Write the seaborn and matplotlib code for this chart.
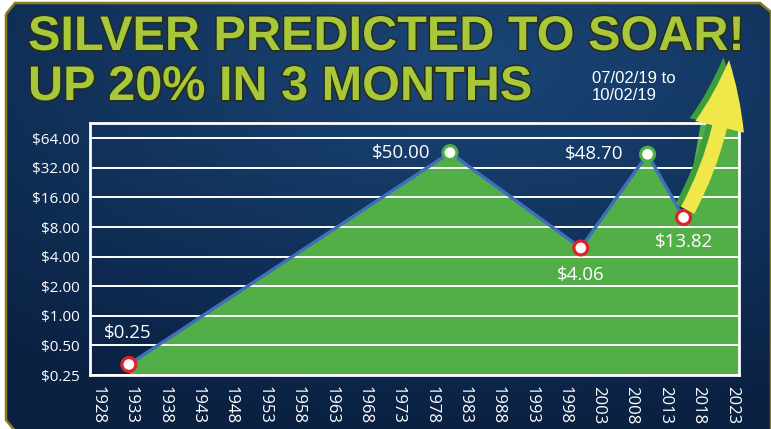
import matplotlib
matplotlib.use('Agg')

import numpy as np
import matplotlib.pyplot as plt
import matplotlib.patheffects as pe
from matplotlib.patches import Polygon
import seaborn as sns

sns.set_theme(style="white")
plt.rcParams['font.family'] = ['Open Sans', 'DejaVu Sans']

# ---- data ----
years = [1932.7, 1980.8, 2000.4, 2010.4, 2015.8]
prices = [0.32, 45.7, 4.9, 44.0, 10.0]
price_labels = ['$0.25', '$50.00', '$4.06', '$48.70', '$13.82']
point_kind = ['low', 'high', 'low', 'high', 'low']
tick_years = list(range(1928, 2024, 5))
tick_prices = [0.25, 0.5, 1, 2, 4, 8, 16, 32, 64]
title_lines = ['SILVER PREDICTED TO SOAR!', 'UP 20% IN 3 MONTHS']
date_text = '07/02/19 to\n10/02/19'

# colours
navy_dark = '#0a2142'
navy_light = '#1a4678'
green_fill = '#52ae47'
line_blue = '#3f6fba'
title_green = '#a8c83b'
edge_cols = {'low': '#e0232b', 'high': '#4caf45'}

W, H = 771, 429
fig = plt.figure(figsize=(W / 100, H / 100), dpi=100)
fig.patch.set_facecolor('white')

# ---- background panel with gradient ----
bg = fig.add_axes([0, 0, 1, 1], zorder=-5)
bg.set_xlim(0, W)
bg.set_ylim(H, 0)
bg.axis('off')
gx, gy = np.meshgrid(np.linspace(0, 1, 300), np.linspace(0, 1, 200))
dist = np.sqrt(((gx - 0.6) / 0.95) ** 2 + ((gy - 0.15) / 0.85) ** 2)
t = np.clip(dist, 0, 1)
c0 = np.array(matplotlib.colors.to_rgb(navy_light))
c1 = np.array(matplotlib.colors.to_rgb(navy_dark))
img = c0[None, None, :] * (1 - t[..., None]) + c1[None, None, :] * t[..., None]
panel_xy = [(6, 14), (15, 3), (760, 3), (771, 12), (771, 432), (16, 432), (6, 420)]
panel = Polygon(panel_xy, closed=True, facecolor='none', edgecolor='#8a7a22', lw=1.8, zorder=2)
bg.add_patch(panel)
im = bg.imshow(img, extent=[0, W, H, 0], aspect='auto', zorder=1)
im.set_clip_path(panel)

# ---- title ----
stroke = [pe.withStroke(linewidth=2.2, foreground='#2a2c12')]
for i, line in enumerate(title_lines):
    fig.text(28 / W, 1 - (50 + 50 * i) / H, line, fontsize=35, fontweight='bold',
             family=['Liberation Sans', 'DejaVu Sans'], color=title_green,
             va='baseline', ha='left', path_effects=stroke)
fig.text(592 / W, 1 - 100 / H, date_text, fontsize=12, color='white',
         family=['Liberation Sans Narrow', 'Liberation Sans', 'DejaVu Sans'],
         va='baseline', ha='left', linespacing=1.2)

# ---- chart ----
ax = fig.add_axes([89.5 / W, 1 - 375 / H, (739 - 89.5) / W, (375 - 123) / H])
ax.set_facecolor('none')
ax.set_yscale('log', base=2)
xmin, xmax = 1926.8, 2024.1
ymin, ymax = 0.25, 91.5
ax.set_xlim(xmin, xmax)
ax.set_ylim(ymin, ymax)

# green area under the line, continuing up behind the arrow
fill_x = years + [2018.3, xmax]
fill_y = prices + [ymax, ymax]
ax.fill_between(fill_x, fill_y, ymin, color=green_fill, lw=0, zorder=1)

ax.set_yticks(tick_prices)
ax.set_yticklabels(['$%.2f' % p for p in tick_prices])
ax.yaxis.set_minor_locator(matplotlib.ticker.NullLocator())
ax.grid(axis='y', color='white', lw=1.4, zorder=2)
ax.grid(axis='x', visible=False)
ax.set_axisbelow(False)

sns.lineplot(x=years, y=prices, ax=ax, color=line_blue, lw=2.4, zorder=3)
sns.scatterplot(x=years, y=prices, ax=ax, s=100, color='white',
                edgecolor=[edge_cols[k] for k in point_kind], linewidth=2.3, zorder=4)

# price labels
offsets = [(-1, 31), (-49, 0), (0, -27), (-53, 0), (0, -24)]
for xv, yv, lab, off in zip(years, prices, price_labels, offsets):
    ax.annotate(lab, (xv, yv), xytext=off, textcoords='offset pixels',
                ha='center', va='center', color='white', fontsize=13.5, zorder=5)

ax.set_xticks(tick_years)
ax.set_xticklabels([str(y) for y in tick_years], rotation=-90)
ax.tick_params(axis='x', colors='white', length=5, width=1.5, direction='out',
               labelsize=12, pad=3)
ax.tick_params(axis='y', colors='white', length=0, labelsize=11, pad=7)
for s in ax.spines.values():
    s.set_color('white')
    s.set_linewidth(2)
    s.set_zorder(6)

# rising arrow from the last point
arrow = ax.annotate('', xy=(729 / W, 1 - 60 / H), xycoords='figure fraction',
                    xytext=(years[-1], prices[-1]), textcoords='data',
                    arrowprops=dict(arrowstyle='simple,head_length=1.35,head_width=1.0,tail_width=0.3',
                                    connectionstyle='arc3,rad=0.12', mutation_scale=36,
                                    facecolor='#f0e84a', edgecolor='none',
                                    shrinkA=6, shrinkB=0),
                    annotation_clip=False, zorder=7)
arrow.arrow_patch.set_path_effects([
    pe.SimplePatchShadow(offset=(-4, 2), shadow_rgbFace='#3f9e3c', alpha=1.0),
    pe.Normal()])
arrow.arrow_patch.set_clip_on(False)

fig.savefig('out.png', dpi=100)
